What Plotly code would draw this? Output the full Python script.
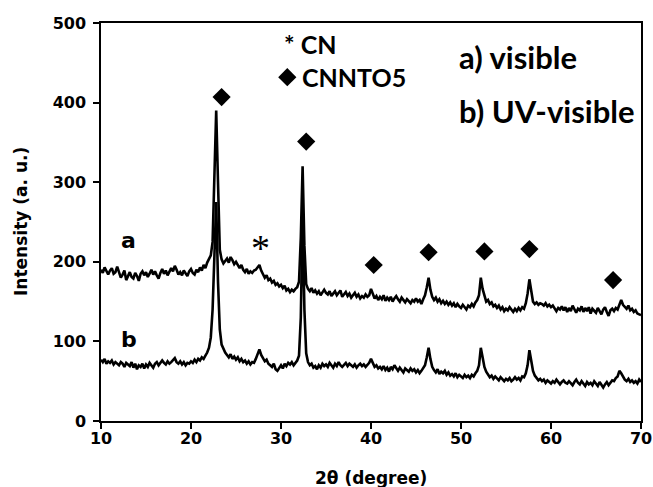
import numpy as np
import plotly.graph_objects as go

# 2-theta grid (0.2 degree steps, 10 -> 70)
two_theta = np.round(10 + 0.2 * np.arange(301), 1)

# a) visible
intensity_a = [
    190, 186, 193, 188, 184,  189, 192, 185, 187, 194,
    186, 180, 184, 189, 177,  183, 187, 181, 179, 186,
    182, 176, 185, 188, 183,  187, 181, 185, 190, 184,
    188, 183, 179, 186, 191,  185, 189, 183, 187, 192,
    188, 195, 190, 184, 187,  183, 189, 186, 182, 188,
    191, 186, 184, 190, 187,  193, 189, 196, 192, 199,
    203, 208, 225, 300, 390,  300, 215, 203, 198, 201,
    204, 199, 206, 202, 197,  200, 195, 192, 196, 190,
    187, 191, 185, 188, 186,  189, 190, 193, 196, 189,
    184, 180, 183, 177, 179,  174, 176, 171, 173, 169,
    171, 167, 170, 164, 166,  162, 165, 163, 166, 168,
    175, 230, 320, 220, 172,  166, 163, 167, 161, 164,
    160, 163, 158, 162, 165,  161, 159, 163, 157, 160,
    163, 158, 161, 164, 156,  159, 162, 157, 160, 155,
    158, 161, 156, 159, 154,  157, 155, 159, 156, 158,
    166, 160, 154, 157, 152,  156, 153, 158, 151, 155,
    152, 156, 150, 154, 157,  153, 150, 155, 152, 149,
    153, 151, 148, 152, 150,  154, 150, 152, 147, 153,
    158, 168, 180, 165, 156,  152, 155, 150, 153, 148,
    151, 147, 150, 146, 149,  145, 148, 143, 147, 144,
    142, 146, 143, 140, 145,  143, 147, 144, 149, 152,
    158, 180, 166, 158, 150,  152, 147, 149, 144, 146,
    142, 145, 140, 143, 138,  141, 139, 143, 140, 137,
    141, 138, 142, 139, 143,  141, 148, 160, 178, 163,
    150, 147, 149, 146, 148,  147, 145, 148, 144, 146,
    143, 145, 141, 138, 142,  140, 144, 139, 143, 137,
    142, 138, 145, 140, 136,  141, 139, 144, 137, 142,
    138, 143, 135, 141, 139,  136, 142, 138, 134, 140,
    143, 137, 132, 139, 141,  138, 142, 140, 147, 152,
    146, 144, 141, 145, 139,  141, 137, 139, 135, 134,
    133,
]

# b) UV-visible
intensity_b = [
    77, 74, 78, 72, 75,  73, 76, 71, 74, 72,
    70, 74, 72, 68, 73,  71, 69, 74, 67, 72,
    65, 70, 68, 72, 66,  71, 68, 73, 70, 67,
    72, 74, 70, 73, 76,  73, 71, 75, 72, 74,
    76, 79, 74, 72, 75,  71, 74, 70, 73, 72,
    75, 73, 77, 74, 78,  76, 80, 78, 82, 86,
    92, 105, 140, 200, 275,  175, 115, 96, 90, 86,
    83, 80, 84, 78, 81,  77, 80, 75, 78, 74,
    76, 72, 75, 71, 74,  73, 78, 84, 90, 83,
    79, 75, 77, 72, 70,  68, 72, 65, 63, 67,
    70, 66, 72, 69, 73,  71, 74, 70, 73, 76,
    82, 130, 260, 140, 85,  74, 70, 72, 67, 69,
    65, 70, 67, 72, 69,  71, 68, 73, 70, 67,
    72, 69, 74, 70, 68,  71, 73, 69, 72, 70,
    68, 71, 67, 70, 72,  69, 71, 68, 70, 73,
    78, 72, 68, 70, 66,  68, 65, 69, 64, 67,
    62, 68, 65, 70, 66,  63, 67, 64, 61, 66,
    64, 62, 66, 63, 65,  61, 64, 60, 63, 66,
    70, 80, 92, 78, 68,  64, 61, 65, 59, 62,
    60, 63, 58, 61, 57,  59, 56, 60, 55, 58,
    56, 54, 58, 55, 57,  54, 58, 56, 60, 63,
    70, 92, 80, 68, 62,  58, 55, 57, 53, 56,
    54, 51, 55, 52, 50,  53, 51, 54, 50, 52,
    55, 52, 54, 51, 56,  55, 60, 70, 89, 76,
    63, 57, 54, 51, 53,  50, 52, 48, 51, 49,
    47, 50, 48, 52, 49,  46, 49, 51, 48, 47,
    50, 47, 45, 49, 52,  48, 46, 50, 47, 44,
    49, 46, 48, 45, 50,  47, 44, 49, 46, 42,
    46, 49, 45, 48, 51,  50, 54, 56, 63, 60,
    55, 52, 50, 53, 49,  51, 48, 50, 47, 52,
    49,
]

# CNNTO5 reflection markers (diamonds)
diamond_x = [23.4, 32.8, 40.3, 46.4, 52.6, 57.6, 66.9]
diamond_y = [407, 351, 196, 212, 213, 216, 177]

# CN reflection marker (asterisk)
cn_x = [27.7]
cn_y = [225]

# legend-like key
key_diamond_x = [30.7]
key_diamond_y = [432]

x_ticks = [10, 20, 30, 40, 50, 60, 70]
y_ticks = [0, 100, 200, 300, 400, 500]

fig = go.Figure()
fig.add_trace(go.Scatter(x=two_theta, y=intensity_a, mode="lines",
                         line=dict(color="black", width=2.6), showlegend=False))
fig.add_trace(go.Scatter(x=two_theta, y=intensity_b, mode="lines",
                         line=dict(color="black", width=2.6), showlegend=False))
fig.add_trace(go.Scatter(x=diamond_x + key_diamond_x, y=diamond_y + key_diamond_y,
                         mode="markers",
                         marker=dict(symbol="diamond", size=14, color="black"),
                         showlegend=False, cliponaxis=False))

tick_font = dict(family="DejaVu Sans", size=16, color="black", weight="bold")
axis_common = dict(showline=True, linecolor="black", linewidth=1.5, mirror=True,
                   ticks="outside", ticklen=6, tickwidth=1.5, tickcolor="black",
                   showgrid=False, zeroline=False, tickfont=tick_font,
                   automargin=False,
                   minor=dict(ticks="outside", ticklen=4, tickwidth=1.2,
                              tickcolor="black", nticks=2))

fig.update_xaxes(range=[10, 70], tickvals=x_ticks, ticklabelstandoff=-4, **axis_common)
fig.update_yaxes(range=[0, 500], tickvals=y_ticks, ticklabelstandoff=4, **axis_common)

title_font = dict(family="DejaVu Sans", size=17, color="black", weight="bold")
ann = []
# axis titles
ann.append(dict(text="2θ (degree)", xref="paper", yref="paper", x=0.5, y=0,
                xanchor="center", yanchor="middle", yshift=-57, showarrow=False,
                font=title_font))
ann.append(dict(text="Intensity (a. u.)", xref="paper", yref="paper", x=0, y=0.5,
                xanchor="center", yanchor="middle", xshift=-80, textangle=-90,
                showarrow=False, font=title_font))
# curve labels
for lbl, yy in (("a", 227), ("b", 102)):
    ann.append(dict(text=lbl, x=13.1, y=yy, xref="x", yref="y", showarrow=False,
                    xanchor="center", yanchor="middle",
                    font=dict(family="DejaVu Sans", size=22, color="black", weight="bold")))
# CN asterisk on pattern
ann.append(dict(text="*", x=cn_x[0], y=cn_y[0], xref="x", yref="y", showarrow=False,
                xanchor="center", yanchor="middle", yshift=-6,
                font=dict(family="Liberation Serif", size=38, color="black")))
# key text
key_font = dict(family="Lato", size=25, color="black", weight="bold")
ann.append(dict(text="* CN", x=30.1, y=474, xref="x", yref="y", showarrow=False,
                xanchor="left", yanchor="middle", font=key_font))
ann.append(dict(text="CNNTO5", x=32.1, y=432, xref="x", yref="y", showarrow=False,
                xanchor="left", yanchor="middle", font=key_font))
cond_font = dict(family="Lato", size=31, color="black", weight="bold")
ann.append(dict(text="a) visible", x=49.5, y=457, xref="x", yref="y", showarrow=False,
                xanchor="left", yanchor="middle", font=cond_font))
ann.append(dict(text="b) UV-visible", x=49.5, y=390, xref="x", yref="y", showarrow=False,
                xanchor="left", yanchor="middle", font=cond_font))

fig.update_layout(width=653, height=487, margin=dict(l=101, r=12, t=23, b=66),
                  plot_bgcolor="white", paper_bgcolor="white", annotations=ann)

fig.write_html("out.html", config={"displayModeBar": False},
               post_script="document.body.style.margin='0';document.body.style.overflow='hidden';")
